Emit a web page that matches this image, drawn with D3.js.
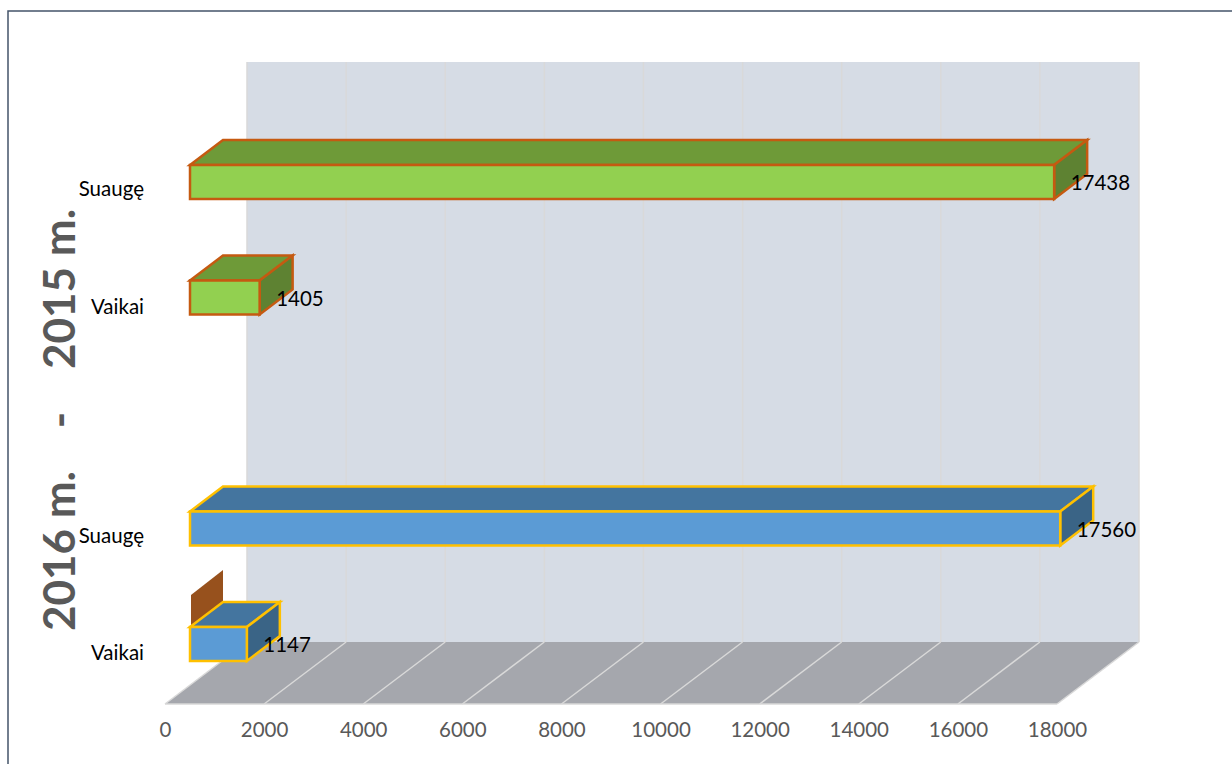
<!DOCTYPE html>
<html>
<head>
<meta charset="utf-8">
<script src="https://cdn.jsdelivr.net/npm/d3@7"></script>
<style>
  html, body { margin: 0; padding: 0; background: #fff; overflow: hidden; }
  text { font-family: Lato, "Open Sans", sans-serif; }
  .domain { display: none; }
  .tick line { display: none; }
</style>
</head>
<body>
<div id="chart"></div>
<script>
// Data
const rows = ['2015 Suauge', '2015 Vaikai', 'gap', '2016 Suauge', '2016 Vaikai'];
const rowLabels = ['Suaugę', 'Vaikai', '', 'Suaugę', 'Vaikai'];
const values = [17438, 1405, null, 17560, 1147];
const rowSeries = ['y2015', 'y2015', null, 'y2016', 'y2016'];
const xTicks = [0, 2000, 4000, 6000, 8000, 10000, 12000, 14000, 16000, 18000];
const titleText = '2016 m.    -    2015 m.';

// Dimensions
const width = 1232, height = 764;
const floorDepth = { x: 82, y: -62 };
const barDepth = { x: 33, y: -25 };
const barOffset = { x: 25, y: 0 };
const barHeight = 34;
const floorY = 704, wallTop = 62;

const colors = {
  y2015: { front: '#92d050', top: '#6e9a38', side: '#5e8232', stroke: '#c55a11' },
  y2016: { front: '#5b9bd5', top: '#44759f', side: '#3a6486', stroke: '#ffc000' }
};

// Scales
const x = d3.scaleLinear().domain([0, 18000]).range([165, 1057]);
const y = d3.scalePoint().domain(rows).range([182, 644]);

// SVG
const svg = d3.select('#chart')
  .append('svg')
  .attr('width', width)
  .attr('height', height)
  .style('display', 'block');

const poly = pts => pts.map(p => p.join(',')).join(' ');

// Frame
svg.append('rect')
  .attr('x', 8).attr('y', 11)
  .attr('width', width + 20).attr('height', height + 20)
  .attr('fill', 'none')
  .attr('stroke', '#44546a')
  .attr('stroke-width', 1.5);

// Back wall
svg.append('rect')
  .attr('x', x(0) + floorDepth.x)
  .attr('y', wallTop)
  .attr('width', x(18000) - x(0))
  .attr('height', floorY + floorDepth.y - wallTop)
  .attr('fill', '#d6dce5');

// Floor
svg.append('polygon')
  .attr('points', poly([
    [x(0), floorY],
    [x(18000), floorY],
    [x(18000) + floorDepth.x, floorY + floorDepth.y],
    [x(0) + floorDepth.x, floorY + floorDepth.y]
  ]))
  .attr('fill', '#a5a7ad');

// Gridlines, on the wall and across the floor
const grid = svg.append('g').attr('fill', 'none').attr('stroke', '#d9d9d9').attr('stroke-width', 1.5);
grid.selectAll('.wall-line')
  .data(xTicks)
  .enter()
  .append('line')
  .attr('class', 'wall-line')
  .attr('x1', d => x(d) + floorDepth.x)
  .attr('x2', d => x(d) + floorDepth.x)
  .attr('y1', wallTop)
  .attr('y2', floorY + floorDepth.y);
grid.selectAll('.floor-line')
  .data(xTicks)
  .enter()
  .append('line')
  .attr('class', 'floor-line')
  .attr('x1', d => x(d))
  .attr('x2', d => x(d) + floorDepth.x)
  .attr('y1', floorY)
  .attr('y2', floorY + floorDepth.y);
svg.append('line')
  .attr('x1', x(0)).attr('x2', x(18000))
  .attr('y1', floorY).attr('y2', floorY)
  .attr('stroke', '#d9d9d9')
  .attr('stroke-width', 1.5);

// Zero-length third series: only its side face shows, above the 2016 Vaikai bar
const zeroTop = y('2016 Vaikai') - 49;
svg.append('polygon')
  .attr('points', poly([
    [x(0) + barOffset.x + 1, zeroTop],
    [x(0) + barOffset.x + barDepth.x, zeroTop + barDepth.y],
    [x(0) + barOffset.x + barDepth.x, zeroTop + barDepth.y + 32],
    [x(0) + barOffset.x + 1, zeroTop + 32]
  ]))
  .attr('fill', '#97511d');

// Bars
const barData = rows
  .map((r, i) => ({ row: r, label: rowLabels[i], value: values[i], series: rowSeries[i] }))
  .filter(d => d.value !== null);

const bars = svg.selectAll('.bar')
  .data(barData)
  .enter()
  .append('g')
  .attr('class', 'bar')
  .attr('stroke-width', 2.5)
  .attr('stroke-linejoin', 'miter')
  .attr('stroke', d => colors[d.series].stroke);

const barLeft = () => x(0) + barOffset.x;
const barRight = d => x(d.value) + barOffset.x;
const barTop = d => y(d.row) - barHeight / 2;
const barBottom = d => y(d.row) + barHeight / 2;

bars.append('polygon')
  .attr('fill', d => colors[d.series].top)
  .attr('points', d => poly([
    [barLeft(), barTop(d)],
    [barRight(d), barTop(d)],
    [barRight(d) + barDepth.x, barTop(d) + barDepth.y],
    [barLeft() + barDepth.x, barTop(d) + barDepth.y]
  ]));
bars.append('polygon')
  .attr('fill', d => colors[d.series].side)
  .attr('points', d => poly([
    [barRight(d), barTop(d)],
    [barRight(d) + barDepth.x, barTop(d) + barDepth.y],
    [barRight(d) + barDepth.x, barBottom(d) + barDepth.y],
    [barRight(d), barBottom(d)]
  ]));
bars.append('rect')
  .attr('fill', d => colors[d.series].front)
  .attr('x', barLeft)
  .attr('y', barTop)
  .attr('width', d => barRight(d) - barLeft())
  .attr('height', barHeight);

// Value labels
svg.selectAll('.value')
  .data(barData)
  .enter()
  .append('text')
  .attr('class', 'value')
  .attr('x', d => barRight(d) + 16.5)
  .attr('y', d => y(d.row) + 8)
  .attr('font-size', 20.5)
  .attr('fill', '#000')
  .text(d => d.value);

// Category labels
svg.selectAll('.category')
  .data(barData)
  .enter()
  .append('text')
  .attr('class', 'category')
  .attr('x', 144)
  .attr('y', d => y(d.row) + 16)
  .attr('dy', d => d.label === 'Suaugę' ? -2 : 0)
  .attr('text-anchor', 'end')
  .attr('font-size', 20.5)
  .attr('fill', '#000')
  .text(d => d.label);

// X axis
svg.append('g')
  .attr('class', 'x axis')
  .attr('transform', `translate(0, ${floorY})`)
  .call(d3.axisBottom(x).tickValues(xTicks).tickSize(0).tickPadding(18).tickFormat(d3.format('d')))
  .selectAll('text')
  .attr('font-size', 20.5)
  .attr('font-family', 'Lato')
  .attr('fill', '#595959');

// Rotated title
svg.append('text')
  .attr('transform', 'translate(75, 631) rotate(-90)')
  .attr('font-size', 44)
  .attr('font-weight', 700)
  .attr('fill', '#595959')
  .style('white-space', 'pre')
  .text(titleText);
</script>
</body>
</html>
